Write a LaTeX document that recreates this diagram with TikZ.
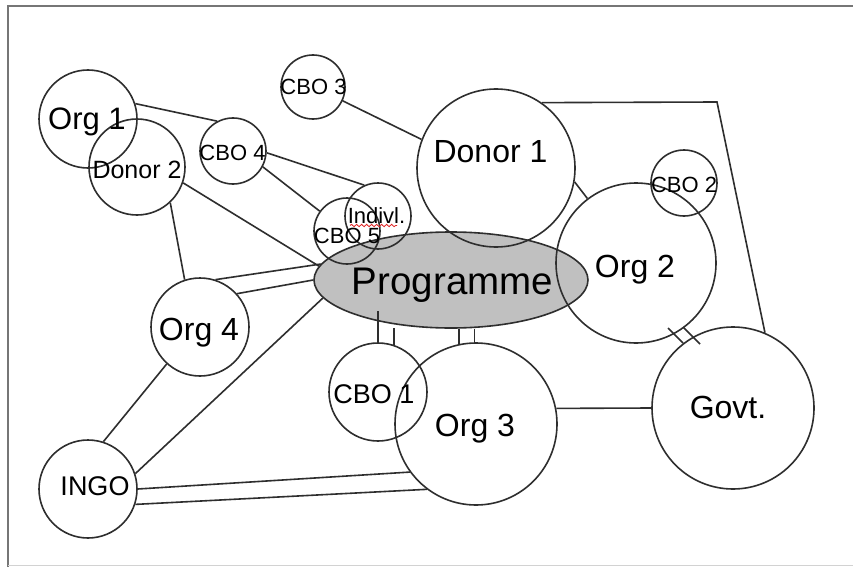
\documentclass[tikz,border=0pt]{standalone}
\usepackage{fontspec}
\setmainfont{Liberation Sans}
\usetikzlibrary{shapes.geometric,decorations.pathmorphing}
\definecolor{ink}{HTML}{2E2E2E}
\definecolor{progfill}{HTML}{C0C0C0}
\definecolor{framegray}{HTML}{767676}
\definecolor{spellred}{HTML}{E02020}
\newcommand\txtsize[1]{\fontsize{#1}{#1}\selectfont}
\begin{document}
\begin{tikzpicture}[x=1pt,y=-1pt,
  actor/.style={circle, draw=ink, line width=1.6pt, inner sep=0pt, minimum size=#1},
  progshape/.style={ellipse, draw=ink, fill=progfill, line width=1.6pt, inner sep=0pt,
    minimum width=274pt, minimum height=96pt},
  nametext/.style={inner sep=0pt, anchor=base, text=black, font=\txtsize{#1}},
  link/.style={draw=ink, line width=1.6pt},
]
\useasboundingbox (0,0) rectangle (853,567);
\fill[white] (0,0) rectangle (853,567);

% outer frame
\draw[framegray, line width=2.2pt] (8,567) -- (8,6) -- (853,6);
\draw[gray!35, line width=1pt] (8,565.5) -- (853,565.5);

% central programme
\node[progshape] (prog) at (451,280) {};

% actors
\node[actor=98pt]  (org1)   at (88,119)  {};
\node[actor=96pt]  (donor2) at (137,167) {};
\node[actor=66pt]  (cbo4)   at (233,151) {};
\node[actor=64pt]  (cbo3)   at (313,87)  {};
\node[actor=158pt] (donor1) at (496,168) {};
\node[actor=66pt]  (cbo2)   at (684,183) {};
\node[actor=160pt] (org2)   at (636,263) {};
\node[actor=162pt] (govt)   at (733,408) {};
\node[actor=162pt] (org3)   at (476,424) {};
\node[actor=98pt]  (cbo1)   at (378,392) {};
\node[actor=98pt]  (org4)   at (200,327) {};
\node[actor=98pt]  (ingo)   at (88,489)  {};
\node[actor=66pt]  (cbo5)   at (347,231) {};
\node[actor=66pt]  (indiv)  at (378,216) {};

% links
\draw[link] (org1.18) -- (cbo4.118);
\draw[link] (cbo3.-25) -- (donor1.159);
\draw[link] (cbo4.-3) -- (indiv.114);
\draw[link] (cbo4.-28) -- (cbo5.144);
\draw[link] (donor2.-19) -- (prog.174);
\draw[link] (donor2.-47) -- (org4.108);
\draw[link] (org4.72) -- (prog.173);
\draw[link] (org4.42) -- (prog.180);
\draw[link] (prog.188) -- (ingo.18);
\draw[link] (org4.228) -- (ingo.72);
\draw[link] (ingo.0) -- (org3.216);
\draw[link] (ingo.-18) -- (org3.233);
\draw[link] (cbo1.north) -- ++(0,-31);
\draw[link] (cbo1.71) -- ++(0,-17);
\draw[link] (org3.102) -- (org3.102 |- prog.south);
\draw[link] (org3.91) -- (org3.91 |- prog.south);
\draw[link] (donor1.-10) -- (org2.127);
\coordinate (corner) at (717,102);
\draw[link] (donor1.55) -- (corner) -- (govt.67);
\draw[link] (org3.11) -- (govt.west);
\draw[link] ([shift={(-65,-80)}]govt.center) -- ([shift={(-50,-65)}]govt.center);
\draw[link] ([shift={(-50,-81)}]govt.center) -- ([shift={(-33,-64)}]govt.center);

% names
\node[nametext=31] (org1-t)   at (87,129)    {Org 1};
\node[nametext=25] (donor2-t) at (137,178)   {Donor 2};
\node[nametext=22] (cbo4-t)   at (232.5,160) {CBO 4};
\node[nametext=22] (cbo3-t)   at (313.5,95)  {CBO 3};
\node[nametext=32] (donor1-t) at (490.5,162) {Donor 1};
\node[nametext=22] (cbo2-t)   at (684,192)   {CBO 2};
\node[nametext=32] (org2-t)   at (635,277)   {Org 2};
\node[nametext=32] (govt-t)   at (728,418)   {Govt.};
\node[nametext=32] (org3-t)   at (475,436)   {Org 3};
\node[nametext=27] (cbo1-t)   at (374,403)   {CBO 1};
\node[nametext=32] (org4-t)   at (199,340)   {Org 4};
\node[nametext=27] (ingo-t)   at (95,495)    {INGO};
\node[nametext=22] (cbo5-t)   at (347,243)   {CBO 5};
\node[nametext=22] (indiv-t)  at (376.5,223) {Indivl.};
\node[nametext=38.5] (prog-t) at (452.5,294) {Programme};

% spell-check underline
\draw[spellred, line width=0.8pt, decorate,
  decoration={snake, segment length=5pt, amplitude=1.2pt}] (350,225.5) -- (397,225.5);
\end{tikzpicture}
\end{document}
